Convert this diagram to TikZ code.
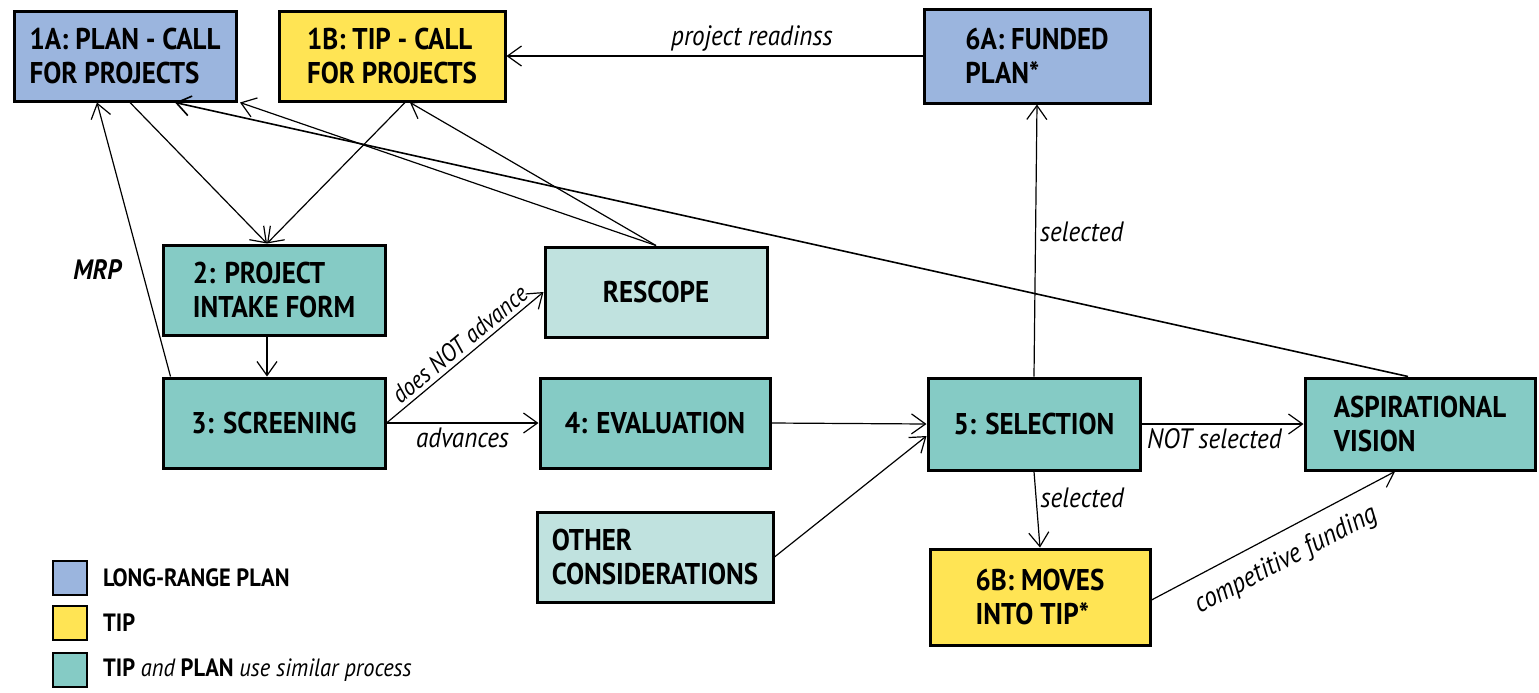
\documentclass[tikz,border=0pt]{standalone}
\usepackage{fontspec}
\setmainfont{PT Sans}[FakeStretch=0.9]
\usetikzlibrary{positioning}
\usetikzlibrary{arrows.meta}
\usetikzlibrary{calc}
\definecolor{planblue}{RGB}{155,181,222}
\definecolor{tipyellow}{RGB}{255,228,84}
\definecolor{procteal}{RGB}{133,203,197}
\definecolor{lightteal}{RGB}{192,226,223}
\tikzset{
    stepbox/.style = {rectangle, line width=1.5pt, draw=black, align=left, inner sep=4pt, minimum width=111pt, minimum height=45pt, font=\bfseries\fontsize{15}{17}\selectfont},
    boxb/.style = {stepbox, fill=planblue},
    boxy/.style = {stepbox, fill=tipyellow},
    boxt/.style = {stepbox, fill=procteal},
    boxl/.style = {stepbox, fill=lightteal},
    edgen/.style = {-{Straight Barb[length=7pt,width=10pt]}, semithick},
    edgek/.style = {-{Straight Barb[length=7pt,width=10pt]}, thick},
    lab/.style = {font=\mdseries\itshape\fontsize{14}{16}\selectfont, inner sep=2pt},
    keybox/.style = {rectangle, line width=1.2pt, draw=black, minimum size=17pt},
    keytext/.style = {anchor=west, font=\bfseries\fontsize{12.5}{14}\selectfont}
}

\begin{document}
\begin{tikzpicture}[x=0.5pt, y=-0.5pt]
\useasboundingbox (0,0) rectangle (1539,692);

\node[boxb] at (125,56) (ia) {1A: PLAN - CALL\\FOR PROJECTS};
\node[boxy, minimum width=113pt] at (392,56) (ib) {1B: TIP - CALL\\FOR PROJECTS};
\node[boxb, minimum width=113pt, minimum height=47pt] at (1037,56) (fa) {6A: FUNDED\\PLAN*};
\node[boxt] at (274,290) (two) {2: PROJECT\\INTAKE FORM};
\node[boxt] at (274,423) (three) {3: SCREENING};
\node[boxl] at (656,292) (rescope) {RESCOPE};
\node[boxt, minimum width=115pt] at (655,423) (four) {4: EVALUATION};
\node[boxl, minimum width=118pt] at (655,557) (other) {OTHER\\CONSIDERATIONS};
\node[boxt, minimum width=106pt, minimum height=46pt] at (1034,424) (five) {5: SELECTION};
\node[boxt, minimum width=115pt, minimum height=46pt] at (1420,424) (vision) {ASPIRATIONAL\\VISION};
\node[boxy, minimum width=110pt, minimum height=48pt] at (1040,597) (sixb) {6B: MOVES\\INTO TIP*};
%
\draw[edgen] (fa.west) -- node[lab, above, pos=0.41] {project readinss} (ib.east);
\draw[edgen] ($(ia.south)+(5,0)$) -- ($(two.north)+(-7,0)$);
\draw[edgen] ($(ib.south)+(13,0)$) -- ($(two.north)+(-7,0)$);
\draw[edgen] ($(two.south)+(-7,0)$) -- ($(three.north)+(-7,0)$);
\draw[edgen] ($(three.north west)+(9,0)$) -- node[lab, pos=0.39, left=8pt, font=\bfseries\itshape\fontsize{14}{16}\selectfont] {MRP} ($(ia.south)+(-28,0)$);
\draw[edgen] (three.east) -- node[lab, above, sloped, pos=0.52, font=\mdseries\itshape\fontsize{12.5}{14}\selectfont] {does NOT advance} (rescope.west);
\draw[edgen] (three.east) -- node[lab, below] {advances} (four.west);
\draw[edgen] (four.east) -- (five.west);
\draw[edgen] (other.east) -- ($(five.west)+(0,12)$);
\draw[edgen] (five.north) -- node[lab, right, pos=0.53] {selected} (fa.south);
\draw[edgen] (five.south) -- node[lab, right, pos=0.35] {selected} (sixb.north);
\draw[edgen] (five.east) -- node[lab, below, pos=0.45] {NOT selected} (vision.west);
\draw[edgen] ($(sixb.east)+(0,3)$) -- node[lab, below=5pt, sloped] {competitive funding} ($(vision.south)+(-25,0)$);
\draw[edgen] (rescope.north) -- ($(ib.south)+(18,0)$);
\draw[edgen] (rescope.north) -- ($(ia.south)+(115,0)$);
\draw[edgek] ($(vision.north)+(-12,0)$) -- ($(ia.south)+(50,0)$);

% legend
\node[keybox, fill=planblue] at (70,578) (kb) {};
\node[keybox, fill=tipyellow] at (70,623) (ky) {};
\node[keybox, fill=procteal] at (70,670) (kt) {};
\node[keytext] at (96,578) (kbt) {LONG-RANGE PLAN};
\node[keytext] at (96,623) (kyt) {TIP};
\node[keytext] at (96,670) (ktt) {TIP {\mdseries\itshape and} PLAN {\mdseries\itshape use similar process}};

\end{tikzpicture}
\end{document}
